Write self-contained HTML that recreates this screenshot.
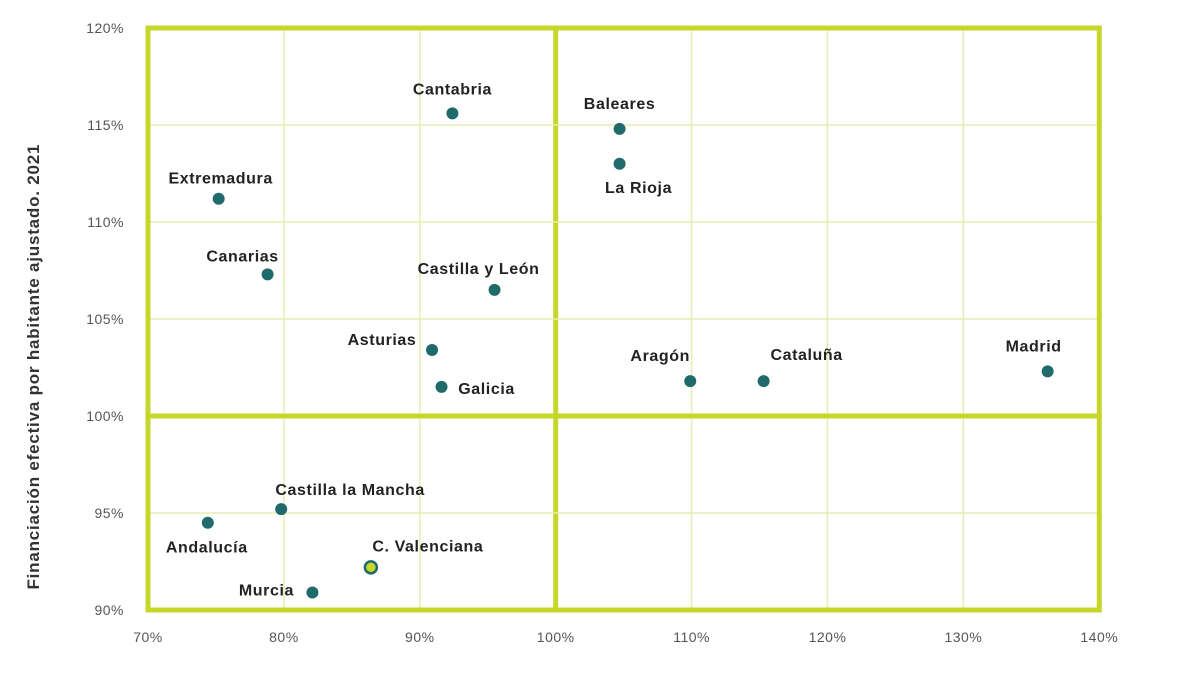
<!DOCTYPE html>
<html><head><meta charset="utf-8"><style>
body{margin:0;background:#fff;}
svg text{font-family:"Liberation Sans",sans-serif;}
</style></head><body>
<svg id="chart" width="1200" height="675" xmlns="http://www.w3.org/2000/svg">
<g id="grid"></g><g id="ticks"></g><g id="pts"></g>
<text transform="translate(39,367) rotate(-90)" text-anchor="middle" font-size="17" font-weight="bold" fill="#333" textLength="445" lengthAdjust="spacing">Financiación efectiva por habitante ajustado. 2021</text>
</svg>
<script>
const names=["Extremadura","Canarias","Cantabria","Castilla y León","Asturias","Galicia","Baleares","La Rioja","Aragón","Cataluña","Madrid","Castilla la Mancha","Andalucía","C. Valenciana","Murcia"];
const xVals=[75.2,78.8,92.4,95.5,90.9,91.6,104.7,104.7,109.9,115.3,136.2,79.8,74.4,86.4,82.1];
const yVals=[111.2,107.3,115.6,106.5,103.4,101.5,114.8,113.0,101.8,101.8,102.3,95.2,94.5,92.2,90.9];
const xTicks=[70,80,90,100,110,120,130,140];
const yTicks=[90,95,100,105,110,115,120];
const labelDx=[2,-25,0,-16,-50,45,0,19,-30,43,-14,69,-1,57,-46];
const labelDy=[-20,-18,-24,-21,-10,2,-25,24,-25,-26,-25,-19,25,-21,-2];
const NS="http://www.w3.org/2000/svg";
const X=v=>148+(v-70)*13.59, Y=v=>28+(120-v)*19.4;
function mk(t,a,p){const e=document.createElementNS(NS,t);for(const k in a)e.setAttribute(k,a[k]);p.appendChild(e);return e;}
const g=document.getElementById('grid'),tk=document.getElementById('ticks'),pg=document.getElementById('pts');
xTicks.forEach(v=>{
 const l=mk('line',{x1:X(v),x2:X(v),y1:Y(120),y2:Y(90),stroke:v==100?'#c5d82a':'#e6edb0','stroke-width':v==100?5:1.5},g);
 
 
 const t=mk('text',{x:X(v),y:642,'text-anchor':'middle','font-size':14,'letter-spacing':0.5,fill:'#555'},tk);t.textContent=v+'%';
 
 
});
yTicks.forEach(v=>{
 const l=mk('line',{x1:X(70),x2:X(140),y1:Y(v),y2:Y(v),stroke:v==100?'#c5d82a':'#e6edb0','stroke-width':v==100?5:1.5},g);
 
 
 const t=mk('text',{x:124,y:Y(v)+5,'text-anchor':'end','font-size':14,'letter-spacing':0.5,fill:'#555'},tk);t.textContent=v+'%';
 
 
});
const fr=mk('rect',{x:X(70),y:Y(120),width:X(140)-X(70),height:Y(90)-Y(120),fill:'none',stroke:'#c5d82a','stroke-width':5},g);


names.forEach((n,i)=>{
 const c=mk('circle',{cx:X(xVals[i]),cy:Y(yVals[i]),r:6,fill:n=='C. Valenciana'?'#c5d82a':'#1f6b6b',stroke:'#1f6b6b','stroke-width':n=='C. Valenciana'?2.5:0},pg);
 
 
 const t=mk('text',{x:X(xVals[i])+labelDx[i],y:Y(yVals[i])+labelDy[i]+5,'text-anchor':'middle','font-size':16,'letter-spacing':0.6,'font-weight':'bold',fill:'#222'},pg);
 t.textContent=n;
 
 
});
</script>
</body></html>
